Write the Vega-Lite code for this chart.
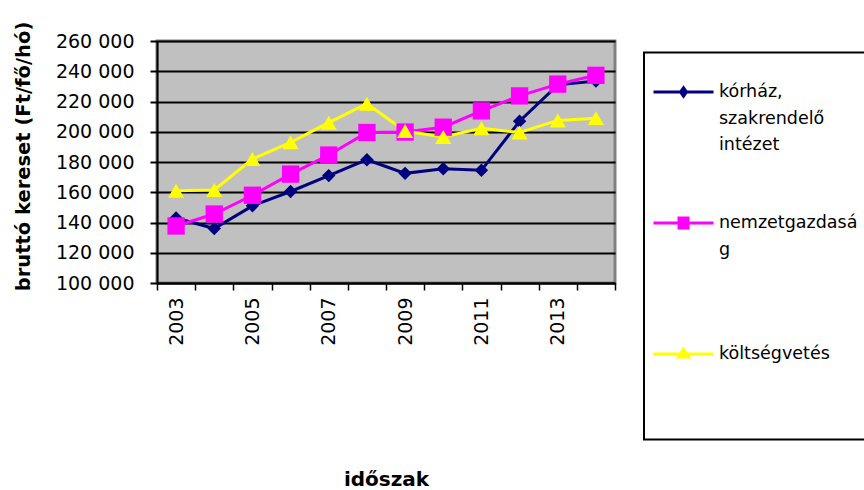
{
  "$schema": "https://vega.github.io/schema/vega-lite/v6.json",
  "width": 458,
  "height": 242,
  "autosize": {"type": "none"},
  "padding": {"left": 157, "top": 41, "right": 249, "bottom": 207},
  "background": "white",
  "config": {
    "view": {"fill": "#C0C0C0", "stroke": "#808080", "strokeWidth": 3},
    "font": "DejaVu Sans"
  },
  "data": {
    "values": [
      {"year": 2003, "series": "kórház, szakrendelő intézet", "value": 143000},
      {"year": 2004, "series": "kórház, szakrendelő intézet", "value": 136000},
      {"year": 2005, "series": "kórház, szakrendelő intézet", "value": 151000},
      {"year": 2006, "series": "kórház, szakrendelő intézet", "value": 160500},
      {"year": 2007, "series": "kórház, szakrendelő intézet", "value": 171000},
      {"year": 2008, "series": "kórház, szakrendelő intézet", "value": 181500},
      {"year": 2009, "series": "kórház, szakrendelő intézet", "value": 172500},
      {"year": 2010, "series": "kórház, szakrendelő intézet", "value": 175500},
      {"year": 2011, "series": "kórház, szakrendelő intézet", "value": 174500},
      {"year": 2012, "series": "kórház, szakrendelő intézet", "value": 207000},
      {"year": 2013, "series": "kórház, szakrendelő intézet", "value": 231000},
      {"year": 2014, "series": "kórház, szakrendelő intézet", "value": 233500},
      {"year": 2003, "series": "nemzetgazdaság", "value": 137700},
      {"year": 2004, "series": "nemzetgazdaság", "value": 145600},
      {"year": 2005, "series": "nemzetgazdaság", "value": 158000},
      {"year": 2006, "series": "nemzetgazdaság", "value": 172000},
      {"year": 2007, "series": "nemzetgazdaság", "value": 184600},
      {"year": 2008, "series": "nemzetgazdaság", "value": 199500},
      {"year": 2009, "series": "nemzetgazdaság", "value": 199800},
      {"year": 2010, "series": "nemzetgazdaság", "value": 203000},
      {"year": 2011, "series": "nemzetgazdaság", "value": 213800},
      {"year": 2012, "series": "nemzetgazdaság", "value": 223700},
      {"year": 2013, "series": "nemzetgazdaság", "value": 231500},
      {"year": 2014, "series": "nemzetgazdaság", "value": 237300},
      {"year": 2003, "series": "költségvetés", "value": 161000},
      {"year": 2004, "series": "költségvetés", "value": 161500},
      {"year": 2005, "series": "költségvetés", "value": 182000},
      {"year": 2006, "series": "költségvetés", "value": 193000},
      {"year": 2007, "series": "költségvetés", "value": 206000},
      {"year": 2008, "series": "költségvetés", "value": 218500},
      {"year": 2009, "series": "költségvetés", "value": 200500},
      {"year": 2010, "series": "költségvetés", "value": 196500},
      {"year": 2011, "series": "költségvetés", "value": 202300},
      {"year": 2012, "series": "költségvetés", "value": 199500},
      {"year": 2013, "series": "költségvetés", "value": 207500},
      {"year": 2014, "series": "költségvetés", "value": 209000}
    ]
  },
  "encoding": {
    "x": {
      "field": "year",
      "type": "ordinal",
      "scale": {"type": "band", "paddingInner": 0, "paddingOuter": 0},
      "axis": {
        "labelAngle": -90,
        "labelExpr": "datum.value % 2 == 1 ? datum.label : ''",
        "labelOverlap": false,
        "tickBand": "extent",
        "grid": false,
        "domainColor": "black",
        "domainWidth": 2,
        "tickColor": "black",
        "tickWidth": 1.5,
        "tickSize": 7,
        "labelFont": "DejaVu Sans",
        "labelFontSize": 19,
        "labelColor": "black",
        "labelPadding": 7,
        "title": "időszak",
        "titleFont": "DejaVu Sans",
        "titleFontSize": 20,
        "titleFontWeight": "bold",
        "titleColor": "black",
        "titleX": 229,
        "titleY": 186,
        "titleBaseline": "top",
        "titleAlign": "center"
      }
    },
    "y": {
      "field": "value",
      "type": "quantitative",
      "scale": {"domain": [100000, 260000], "nice": false, "zero": false},
      "axis": {
        "values": [100000, 120000, 140000, 160000, 180000, 200000, 220000, 240000, 260000],
        "domainColor": "black",
        "domainWidth": 2,
        "tickColor": "black",
        "tickWidth": 2,
        "tickSize": 7,
        "grid": true,
        "gridColor": "black",
        "gridWidth": 2,
        "labelFont": "DejaVu Sans",
        "labelFontSize": 19,
        "labelColor": "black",
        "labelPadding": 16,
        "labelExpr": "replace(format(datum.value, ',d'), ',', ' ')",
        "title": "bruttó kereset (Ft/fő/hó)",
        "titleFont": "DejaVu Sans",
        "titleFontSize": 19.5,
        "titleFontWeight": "bold",
        "titleColor": "black",
        "titleX": -134,
        "titleY": 115,
        "titleAngle": 270,
        "titleBaseline": "middle",
        "titleAlign": "center"
      }
    },
    "color": {
      "field": "series",
      "type": "nominal",
      "scale": {
        "domain": ["kórház, szakrendelő intézet", "nemzetgazdaság", "költségvetés"],
        "range": ["#000080", "#FF00FF", "#FFFF00"]
      },
      "legend": {
        "orient": "none",
        "legendX": 487,
        "legendY": 11.5,
        "title": null,
        "strokeColor": "black",
        "fillColor": "white",
        "padding": 8,
        "symbolSize": 3600,
        "symbolStrokeWidth": 3,
        "labelFont": "DejaVu Sans",
        "labelFontSize": 17.5,
        "labelColor": "black",
        "labelLimit": 0,
        "labelOffset": 4,
        "rowPadding": 22,
        "gridAlign": "all",
        "labelExpr": "datum.value == 'kórház, szakrendelő intézet' ? ['kórház,', 'szakrendelő', 'intézet'] : datum.value == 'nemzetgazdaság' ? ['nemzetgazdasá', 'g'] : [datum.value, '', '']",
        "encode": {
          "legend": {"update": {"strokeWidth": {"value": 2}}},
          "symbols": {
            "update": {
              "shape": {"signal": "datum.value == 'kórház, szakrendelő intézet' ? 'M-1,0H1M-0.1,0L0,-0.14L0.1,0L0,0.14Z' : datum.value == 'nemzetgazdaság' ? 'M-1,0H1M-0.15,-0.17H0.15V0.17H-0.15Z' : 'M-1,0H1M-0.17,0.1L0,-0.16L0.17,0.1Z'"},
              "fill": {"signal": "scale('color', datum.value)"},
              "stroke": {"signal": "scale('color', datum.value)"},
              "strokeWidth": {"value": 3},
              "size": {"value": 3600},
              "opacity": {"value": 1}
            }
          },
          "labels": {"update": {"lineHeight": {"signal": "datum.value == 'költségvetés' ? 34.25 : 26.5"}}}
        }
      }
    }
  },
  "layer": [
    {"mark": {"type": "line", "strokeWidth": 3}},
    {
      "transform": [{"filter": "datum.series == 'kórház, szakrendelő intézet'"}],
      "mark": {"type": "point", "filled": true, "opacity": 1, "shape": "diamond", "size": 180}
    },
    {
      "transform": [{"filter": "datum.series == 'nemzetgazdaság'"}],
      "mark": {"type": "point", "filled": true, "opacity": 1, "shape": "square", "size": 300}
    },
    {
      "transform": [{"filter": "datum.series == 'költségvetés'"}],
      "mark": {"type": "point", "filled": true, "opacity": 1, "shape": "triangle-up", "size": 260}
    }
  ]
}
